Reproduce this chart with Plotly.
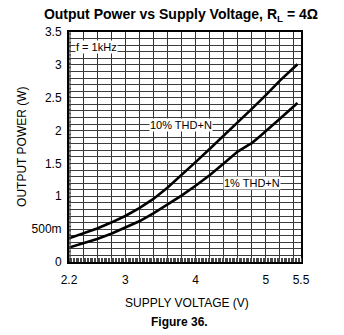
import numpy as np
import plotly.graph_objects as go

# Output power vs supply voltage, RL = 4 ohm, f = 1 kHz
supply_v_10 = [2.2, 2.4, 2.6, 2.8, 3.0, 3.2, 3.4, 3.6, 3.8, 4.0, 4.2, 4.4, 4.6, 4.8, 5.0, 5.2, 5.45]
power_10 = [0.36, 0.43, 0.51, 0.60, 0.70, 0.82, 0.96, 1.13, 1.32, 1.52, 1.72, 1.92, 2.12, 2.33, 2.54, 2.76, 3.01]

supply_v_1 = [2.2, 2.4, 2.6, 2.8, 3.0, 3.2, 3.4, 3.6, 3.8, 4.0, 4.2, 4.4, 4.6, 4.75, 4.8, 4.9, 5.0, 5.2, 5.45]
power_1 = [0.22, 0.28, 0.35, 0.43, 0.52, 0.62, 0.74, 0.87, 1.01, 1.16, 1.32, 1.50, 1.68, 1.78, 1.81, 1.90, 1.99, 2.18, 2.42]

x_tick_values = [2.2, 3, 4, 5, 5.5]
x_tick_labels = ["2.2", "3", "4", "5", "5.5"]
y_tick_values = [0, 0.5, 1, 1.5, 2, 2.5, 3, 3.5]
y_tick_labels = ["0", "500m", "1", "1.5", "2", "2.5", "3", "3.5"]

FONT = "Arial, Liberation Sans, sans-serif"
X_RANGE = [2.2, 5.5]
Y_RANGE = [0, 3.5]

# graph-paper grid: gridlines every 0.2 V / 0.1 W, fine ticks every 0.02
X_GRID_STEP, Y_GRID_STEP, FINE_STEP = 0.2, 0.1, 0.02
PLOT_W, PLOT_H = 232, 230  # plot area size in px


def steps(lo, hi, step):
    return [round(float(v), 4) for v in np.arange(lo, hi + 1e-9, step)]


x_grid = steps(X_RANGE[0], X_RANGE[1] - 1e-3, X_GRID_STEP) + [X_RANGE[1]]
y_grid = steps(Y_RANGE[0], Y_RANGE[1], Y_GRID_STEP)
y_fine = steps(Y_RANGE[0], Y_RANGE[1], FINE_STEP)

fig = go.Figure()
fig.add_trace(go.Scatter(x=supply_v_10, y=power_10, mode="lines",
                         line=dict(color="black", width=2.6),
                         showlegend=False, hoverinfo="skip"))
fig.add_trace(go.Scatter(x=supply_v_1, y=power_1, mode="lines",
                         line=dict(color="black", width=2.6),
                         showlegend=False, hoverinfo="skip"))

# tick labels only where a label exists, gridlines at every step
x_text = [next((t for v, t in zip(x_tick_values, x_tick_labels) if abs(v - g) < 1e-6), "")
          for g in x_grid]
y_text = [next((t for v, t in zip(y_tick_values, y_tick_labels) if abs(v - g) < 1e-6), "")
          for g in y_grid]

shapes = [
    # fine tick marks along the left edge
    dict(type="path", xref="paper", yref="y", layer="above",
         path=" ".join(f"M0,{v} L{2 / PLOT_W:.4f},{v}" for v in y_fine),
         line=dict(color="rgb(70,70,70)", width=1)),
]

tickfont = dict(family=FONT, size=12, color="black")

fig.update_layout(
    xaxis=dict(
        range=X_RANGE, tickmode="array", tickvals=x_grid, ticktext=x_text,
        showgrid=True, gridcolor="rgb(50,50,50)", gridwidth=1.4,
        showline=True, linecolor="black", linewidth=2, mirror=True,
        ticks="outside", ticklen=6, tickcolor="rgba(0,0,0,0)",
        tickfont=tickfont, zeroline=False,
        minor=dict(tickmode="linear", tick0=X_RANGE[0], dtick=FINE_STEP, ticks="inside",
                   ticklen=4, tickcolor="rgb(70,70,70)", tickwidth=1, showgrid=False),
    ),
    yaxis=dict(
        range=Y_RANGE, tickmode="array", tickvals=y_grid, ticktext=y_text,
        showgrid=True, gridcolor="rgb(60,60,60)", gridwidth=1.2,
        showline=True, linecolor="black", linewidth=2, mirror=True,
        ticks="outside", ticklen=3, tickcolor="rgba(0,0,0,0)",
        tickfont=tickfont, zeroline=False,
    ),
    shapes=shapes,
)

annotations = [
    dict(x=3.79, y=2.08, xref="x", yref="y", text="10% THD+N", showarrow=False,
         bgcolor="white", font=dict(family=FONT, size=11, color="black"), borderpad=0),
    dict(x=4.81, y=1.2, xref="x", yref="y", text="1% THD+N", showarrow=False,
         bgcolor="white", font=dict(family=FONT, size=11, color="black"), borderpad=0),
    dict(x=2.28, y=3.27, xref="x", yref="y", text="f = 1kHz", showarrow=False,
         xanchor="left", bgcolor="white", font=dict(family=FONT, size=11, color="black"),
         borderpad=0),
    dict(x=0.5, y=-0.177, xref="paper", yref="paper", text="SUPPLY VOLTAGE (V)",
         showarrow=False, xanchor="center", yanchor="middle", xshift=2,
         font=dict(family=FONT, size=12, color="black")),
    dict(x=0.5, y=-0.26, xref="paper", yref="paper", text="<b>Figure 36.</b>",
         showarrow=False, xanchor="center", yanchor="middle", xshift=-6,
         font=dict(family=FONT, size=12, color="black")),
    dict(x=-0.203, y=0.5, xref="paper", yref="paper", text="OUTPUT POWER (W)",
         showarrow=False, textangle=-90, xanchor="center", yanchor="middle",
         font=dict(family=FONT, size=12, color="black")),
]

fig.update_layout(
    width=344, height=335,
    margin=dict(l=69, r=43, t=32, b=73),
    paper_bgcolor="white", plot_bgcolor="white",
    title=dict(text="<b>Output Power vs Supply Voltage, R<sub>L</sub> = 4Ω</b>",
               x=0.526, xanchor="center", y=1 - 14 / 335, yanchor="middle",
               yref="container", font=dict(family=FONT, size=14, color="black")),
    annotations=annotations,
)

fig.write_html("out.html")
